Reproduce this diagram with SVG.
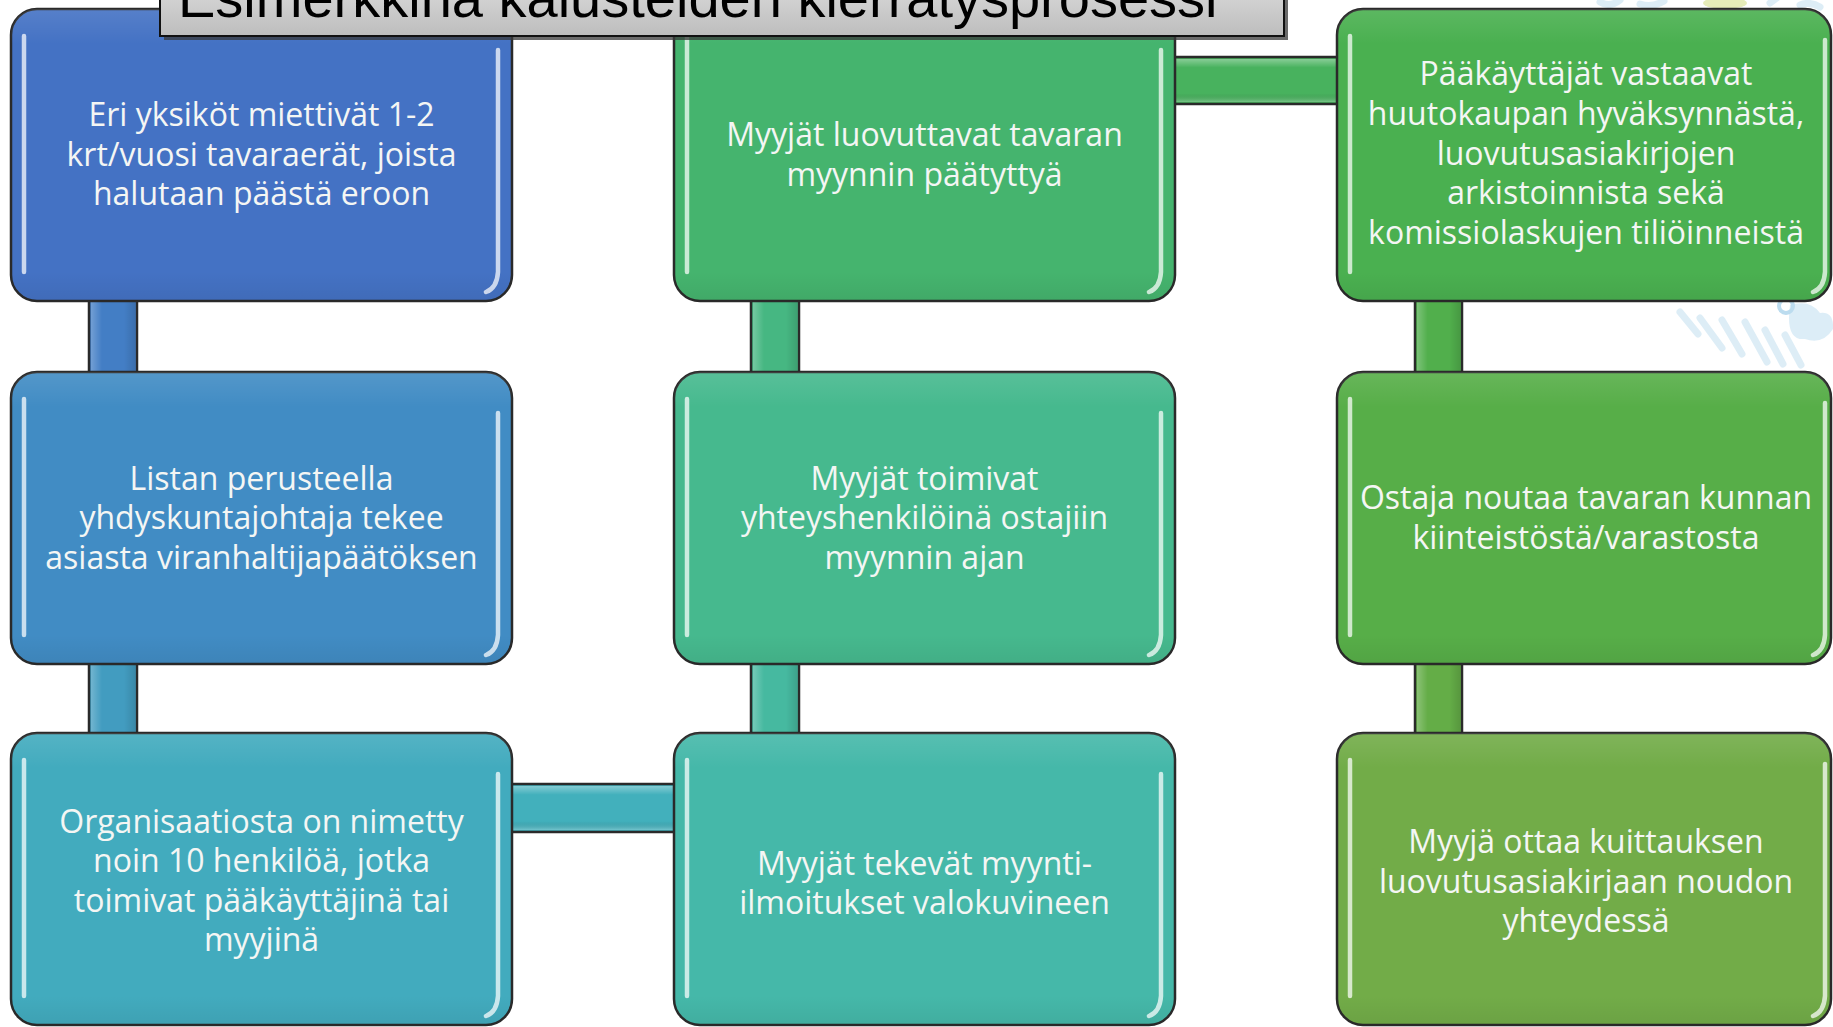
<svg xmlns="http://www.w3.org/2000/svg" width="1833" height="1027" viewBox="0 0 1833 1027">
<defs>
<linearGradient id="titleGrad" x1="0" y1="0" x2="0" y2="1">
<stop offset="0" stop-color="#f4f4f4"/>
<stop offset="1" stop-color="#bdbdbd"/>
</linearGradient>
<linearGradient id="shade" x1="0" y1="0" x2="0" y2="1">
<stop offset="0" stop-color="#ffffff" stop-opacity="0.10"/>
<stop offset="0.12" stop-color="#ffffff" stop-opacity="0"/>
<stop offset="0.9" stop-color="#000000" stop-opacity="0"/>
<stop offset="1" stop-color="#000000" stop-opacity="0.06"/>
</linearGradient>
<linearGradient id="hshade" x1="0" y1="0" x2="0" y2="1">
<stop offset="0" stop-color="#ffffff" stop-opacity="0.35"/>
<stop offset="0.2" stop-color="#ffffff" stop-opacity="0"/>
<stop offset="0.8" stop-color="#000000" stop-opacity="0"/>
<stop offset="1" stop-color="#ffffff" stop-opacity="0.25"/>
</linearGradient>
<linearGradient id="vshade" x1="0" y1="0" x2="1" y2="0">
<stop offset="0" stop-color="#ffffff" stop-opacity="0.25"/>
<stop offset="0.25" stop-color="#ffffff" stop-opacity="0"/>
<stop offset="0.75" stop-color="#000000" stop-opacity="0"/>
<stop offset="1" stop-color="#000000" stop-opacity="0.12"/>
</linearGradient>
</defs>
<style>
.box{stroke:#2a2a2a;stroke-width:2.5}
.gloss{fill:url(#shade)}
.hl{fill:none;stroke:#ffffff;stroke-opacity:0.72;stroke-width:4.5;stroke-linecap:round}
.con{stroke:#2a2a2a;stroke-width:2.5}
.lbl{font-family:"Open Sans","Noto Sans","Liberation Sans",sans-serif;font-size:32px;fill:#f4f6f4;text-anchor:middle}
.title{font-family:"Liberation Sans",Arial,sans-serif;font-size:56px;fill:#000000}
.deco{fill:none;stroke:#cfe5f2;stroke-width:7;stroke-linecap:round;opacity:0.7}
</style>
<rect x="0" y="0" width="1833" height="1027" fill="#ffffff"/>

<g id="background-decoration">
<path class="deco" d="M1600 2 q10 6 20 -2 M1640 4 q12 4 24 -3 M1770 3 l8 -6 M1800 5 q10 -4 20 2"/>
<ellipse cx="1725" cy="3" rx="22" ry="6" fill="#d6e08a" opacity="0.6"/>
<path class="deco" d="M1680 312 l18 22 M1700 318 l22 30 M1722 320 l20 34 M1745 322 l22 40 M1765 330 l18 34 M1785 335 l16 30"/>
<path d="M1790 305 q20 -6 30 8 q14 -2 13 16 q-10 16 -28 10 q-20 2 -15 -34z" fill="#d3e8f5" opacity="0.8"/>
<circle cx="1786" cy="306" r="7" fill="none" stroke="#bcdcef" stroke-width="4"/>
</g>

<g id="connectors">
<rect class="con" x="89" y="290" width="48" height="95" fill="#437ec5"/>
<rect x="91" y="290" width="44" height="95" fill="url(#vshade)"/>
<rect class="con" x="89" y="655" width="48" height="90" fill="#429cc0"/>
<rect x="91" y="655" width="44" height="90" fill="url(#vshade)"/>
<rect class="con" x="500" y="784" width="186" height="48" fill="#42b0bc"/>
<rect x="500" y="786" width="186" height="44" fill="url(#hshade)"/>
<rect class="con" x="751" y="655" width="48" height="90" fill="#46b9a0"/>
<rect x="753" y="655" width="44" height="90" fill="url(#vshade)"/>
<rect class="con" x="751" y="290" width="48" height="95" fill="#46b782"/>
<rect x="753" y="290" width="44" height="95" fill="url(#vshade)"/>
<rect class="con" x="1163" y="57" width="186" height="47" fill="#48b25e"/>
<rect x="1163" y="59" width="186" height="43" fill="url(#hshade)"/>
<rect class="con" x="1415" y="290" width="47" height="95" fill="#51af4c"/>
<rect x="1417" y="290" width="43" height="95" fill="url(#vshade)"/>
<rect class="con" x="1415" y="655" width="47" height="90" fill="#64ad47"/>
<rect x="1417" y="655" width="43" height="90" fill="url(#vshade)"/>
</g>

<g id="node-1">
<rect class="box" x="11" y="9" width="501" height="292" rx="26" fill="#4472c4"/>
<rect class="gloss" x="11" y="9" width="501" height="292" rx="26"/>
<path class="hl" d="M24 36 V272 M498 50 V272 Q497 288 486 292"/>
<text class="lbl"><tspan x="261.5" y="126">Eri yksiköt miettivät 1-2</tspan><tspan x="261.5" y="166">krt/vuosi tavaraerät, joista</tspan><tspan x="261.5" y="205">halutaan päästä eroon</tspan></text>
</g>

<g id="node-2">
<rect class="box" x="11" y="372" width="501" height="292" rx="26" fill="#418cc4"/>
<rect class="gloss" x="11" y="372" width="501" height="292" rx="26"/>
<path class="hl" d="M24 399 V635 M498 413 V635 Q497 651 486 655"/>
<text class="lbl"><tspan x="261.5" y="490">Listan perusteella</tspan><tspan x="261.5" y="529">yhdyskuntajohtaja tekee</tspan><tspan x="261.5" y="569">asiasta viranhaltijapäätöksen</tspan></text>
</g>

<g id="node-3">
<rect class="box" x="11" y="733" width="501" height="292" rx="26" fill="#42abbe"/>
<rect class="gloss" x="11" y="733" width="501" height="292" rx="26"/>
<path class="hl" d="M24 760 V996 M498 774 V996 Q497 1012 486 1016"/>
<text class="lbl"><tspan x="261.5" y="833">Organisaatiosta on nimetty</tspan><tspan x="261.5" y="872">noin 10 henkilöä, jotka</tspan><tspan x="261.5" y="912">toimivat pääkäyttäjinä tai</tspan><tspan x="261.5" y="951">myyjinä</tspan></text>
</g>

<g id="node-4">
<rect class="box" x="674" y="733" width="501" height="292" rx="26" fill="#45b8a9"/>
<rect class="gloss" x="674" y="733" width="501" height="292" rx="26"/>
<path class="hl" d="M687 760 V996 M1161 774 V996 Q1160 1012 1149 1016"/>
<text class="lbl"><tspan x="924.5" y="875">Myyjät tekevät myynti-</tspan><tspan x="924.5" y="914">ilmoitukset valokuvineen</tspan></text>
</g>

<g id="node-5">
<rect class="box" x="674" y="372" width="501" height="292" rx="26" fill="#46b98e"/>
<rect class="gloss" x="674" y="372" width="501" height="292" rx="26"/>
<path class="hl" d="M687 399 V635 M1161 413 V635 Q1160 651 1149 655"/>
<text class="lbl"><tspan x="924.5" y="490">Myyjät toimivat</tspan><tspan x="924.5" y="529">yhteyshenkilöinä ostajiin</tspan><tspan x="924.5" y="569">myynnin ajan</tspan></text>
</g>

<g id="node-6">
<rect class="box" x="674" y="9" width="501" height="292" rx="26" fill="#45b46e"/>
<rect class="gloss" x="674" y="9" width="501" height="292" rx="26"/>
<path class="hl" d="M687 36 V272 M1161 50 V272 Q1160 288 1149 292"/>
<text class="lbl"><tspan x="924.5" y="146">Myyjät luovuttavat tavaran</tspan><tspan x="924.5" y="186">myynnin päätyttyä</tspan></text>
</g>

<g id="node-7">
<rect class="box" x="1337" y="9" width="494" height="292" rx="26" fill="#4ab050"/>
<rect class="gloss" x="1337" y="9" width="494" height="292" rx="26"/>
<path class="hl" d="M1350 36 V272 M1825 40 V272 Q1824 288 1813 292"/>
<text class="lbl"><tspan x="1586" y="85">Pääkäyttäjät vastaavat</tspan><tspan x="1586" y="125">huutokaupan hyväksynnästä,</tspan><tspan x="1586" y="165">luovutusasiakirjojen</tspan><tspan x="1586" y="204">arkistoinnista sekä</tspan><tspan x="1586" y="244">komissiolaskujen tiliöinneistä</tspan></text>
</g>

<g id="node-8">
<rect class="box" x="1337" y="372" width="494" height="292" rx="26" fill="#57ae48"/>
<rect class="gloss" x="1337" y="372" width="494" height="292" rx="26"/>
<path class="hl" d="M1350 399 V635 M1825 403 V635 Q1824 651 1813 655"/>
<text class="lbl"><tspan x="1586" y="509">Ostaja noutaa tavaran kunnan</tspan><tspan x="1586" y="549">kiinteistöstä/varastosta</tspan></text>
</g>

<g id="node-9">
<rect class="box" x="1337" y="733" width="494" height="292" rx="26" fill="#72ac48"/>
<rect class="gloss" x="1337" y="733" width="494" height="292" rx="26"/>
<path class="hl" d="M1350 760 V996 M1825 764 V996 Q1824 1012 1813 1016"/>
<text class="lbl"><tspan x="1586" y="853">Myyjä ottaa kuittauksen</tspan><tspan x="1586" y="893">luovutusasiakirjaan noudon</tspan><tspan x="1586" y="932">yhteydessä</tspan></text>
</g>

<g id="title">
<rect x="164" y="-60" width="1124" height="100" fill="#3a3a3a" opacity="0.75"/>
<rect x="160" y="-64" width="1124" height="100" fill="url(#titleGrad)" stroke="#111111" stroke-width="2"/>
<text class="title" x="178" y="17">Esimerkkinä kalusteiden kierrätysprosessi</text>
</g>
</svg>
